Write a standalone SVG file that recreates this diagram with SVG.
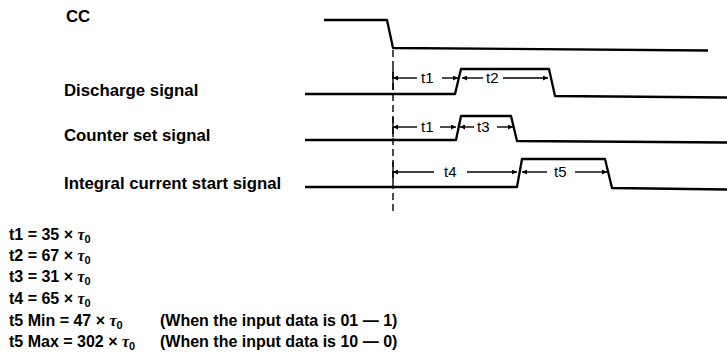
<svg xmlns="http://www.w3.org/2000/svg" width="727" height="359" viewBox="0 0 727 359">
<style>
.lbl{font-family:"Liberation Sans",Arial,sans-serif;font-size:16.8px;font-weight:bold;fill:#000}
.eq{font-family:"Liberation Sans",Arial,sans-serif;font-size:16px;font-weight:bold;fill:#000}
.tl{font-family:"Liberation Sans",Arial,sans-serif;font-size:15px;fill:#000}
.wave{fill:none;stroke:#000;stroke-width:2.3;stroke-linejoin:round}
.dim{fill:none;stroke:#000;stroke-width:1.4}
.tick{fill:none;stroke:#000;stroke-width:1.4}
.dash{fill:none;stroke:#000;stroke-width:1.4;stroke-dasharray:7 4}
.tau{font-style:italic;font-family:"Liberation Serif","DejaVu Serif",serif}
.sub{font-size:11px}
</style>
<defs>
<marker id="ah" viewBox="0 0 10 10" refX="10" refY="5" markerWidth="8" markerHeight="5" markerUnits="userSpaceOnUse" orient="auto-start-reverse">
<path d="M0,0 L10,5 L0,10 z" fill="#000"/>
</marker>
</defs>

<g id="cc">
<text class="lbl" x="66" y="22">CC</text>
<polyline class="wave" points="324,20 387,20 393,48 708,50.5"/>
</g>

<g id="discharge">
<text class="lbl" x="64" y="96">Discharge signal</text>
<polyline class="wave" points="305,94 455,94 461,69 549,69 555,96 727,97.5"/>
</g>

<g id="counter-set">
<text class="lbl" x="64" y="141">Counter set signal</text>
<polyline class="wave" points="305,140 456,140 461,116 511,116 517,141 727,142.5"/>
</g>

<g id="integral">
<text class="lbl" x="64" y="189">Integral current start signal</text>
<polyline class="wave" points="305,187 517,187 522,159 605,159 612,188 727,189.5"/>
</g>

<g id="connectors">
<line class="dash" x1="393" y1="50" x2="393" y2="213"/>
<line class="tick" x1="393" y1="68" x2="393" y2="90"/>
<line class="tick" x1="393" y1="117" x2="393" y2="137"/>
<line class="tick" x1="393" y1="162" x2="393" y2="182"/>

<line class="dim" x1="417" y1="78" x2="393" y2="78" marker-end="url(#ah)"/>
<text class="tl" x="421" y="83">t1</text>
<line class="dim" x1="442" y1="78" x2="458" y2="78" marker-end="url(#ah)"/>
<line class="dim" x1="483" y1="78" x2="462" y2="78" marker-end="url(#ah)"/>
<text class="tl" x="486" y="83">t2</text>
<line class="dim" x1="503" y1="78" x2="548" y2="78" marker-end="url(#ah)"/>

<line class="dim" x1="417" y1="127" x2="393" y2="127" marker-end="url(#ah)"/>
<text class="tl" x="421" y="132">t1</text>
<line class="dim" x1="440" y1="127" x2="456" y2="127" marker-end="url(#ah)"/>
<line class="dim" x1="474" y1="127" x2="460" y2="127" marker-end="url(#ah)"/>
<text class="tl" x="477" y="132">t3</text>
<line class="dim" x1="497" y1="127" x2="513" y2="127" marker-end="url(#ah)"/>

<line class="dim" x1="434" y1="172" x2="393" y2="172" marker-end="url(#ah)"/>
<text class="tl" x="444" y="177">t4</text>
<line class="dim" x1="467" y1="172" x2="517" y2="172" marker-end="url(#ah)"/>
<line class="dim" x1="547" y1="172" x2="522" y2="172" marker-end="url(#ah)"/>
<text class="tl" x="554" y="177">t5</text>
<line class="dim" x1="575" y1="172" x2="607" y2="172" marker-end="url(#ah)"/>
</g>

<g id="equations">
<text class="eq" x="9" y="240">t1 = 35 × <tspan class="tau">τ</tspan><tspan class="sub" dy="3">0</tspan></text>
<text class="eq" x="9" y="261">t2 = 67 × <tspan class="tau">τ</tspan><tspan class="sub" dy="3">0</tspan></text>
<text class="eq" x="9" y="282">t3 = 31 × <tspan class="tau">τ</tspan><tspan class="sub" dy="3">0</tspan></text>
<text class="eq" x="9" y="304">t4 = 65 × <tspan class="tau">τ</tspan><tspan class="sub" dy="3">0</tspan></text>
<text class="eq" x="9" y="326">t5 Min = 47 × <tspan class="tau">τ</tspan><tspan class="sub" dy="3">0</tspan></text>
<text class="eq" x="160" y="326">(When the input data is 01 — 1)</text>
<text class="eq" x="9" y="347">t5 Max = 302 × <tspan class="tau">τ</tspan><tspan class="sub" dy="3">0</tspan></text>
<text class="eq" x="160" y="347">(When the input data is 10 — 0)</text>
</g>
</svg>
